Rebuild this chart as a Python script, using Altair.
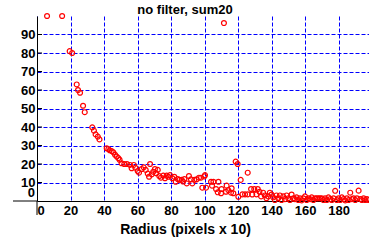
import altair as alt
import pandas as pd

# ---- data ----
radius = [6, 15, 19.5, 21, 23.7, 24.5, 25.7, 27.5, 28.5, 33, 34, 35, 36.3, 37.3,
          41.6, 42.6, 43.4, 44.6, 45.6, 46.6, 47.6, 48.6, 49.3, 50.5, 52.1, 53.7,
          55.5, 56.5, 57.8, 58.7, 60.1, 60.9, 62.5, 63.7, 64.9, 66.1, 66.9, 67.5,
          68.5, 69.4, 70.4, 71.2, 72.1, 73, 74, 75.4, 76.4, 77.4, 78.4, 79.4, 80.8,
          82, 82.8, 84, 85, 86.4, 87.2, 88, 89.4, 90.7, 91.9, 92.7, 93.9, 95.3,
          96.7, 97.9, 98.7, 99.9, 100.3, 100.9, 103.9, 104.5, 105.3, 106.9, 107.9,
          108.3, 109.9, 110.2, 111.6, 112.8, 113.2, 114.2, 115.8, 116.2, 117.2,
          118.6, 119.8, 120.2, 121.6, 122.6, 124.2, 125.8, 125.8, 127.8, 128.5,
          129.7, 131, 131.8, 132.8, 133.8, 135, 136, 137, 138, 139, 140, 141, 142,
          143, 144, 145, 146, 147, 148, 149, 150, 151, 152, 153, 154, 155, 156,
          157, 158, 159, 160, 161, 162, 163, 164, 165, 166, 167, 168, 169, 170,
          171, 172, 173, 174, 175, 176, 177, 178, 179, 180, 181, 182, 183, 184,
          185, 186, 187, 188, 189, 190, 191, 192, 193, 194, 195, 196, 197, 198]
value = [100, 100, 81, 80, 63, 60, 58.5, 51.5, 48, 39.8, 38, 36, 34.8, 33.3,
         28.5, 28, 27.4, 27, 26.3, 25, 24, 23.2, 22.3, 20.4, 20, 20,
         19.5, 17.7, 19.5, 18, 16.2, 15.3, 17.3, 18.2, 16.8, 14.8, 13.1, 20,
         14.4, 15.8, 17.3, 15, 16.8, 13.5, 12.6, 13.7, 12.3, 13.7, 13.1, 14, 12.3,
         13.1, 10.4, 11.9, 11.4, 11.4, 10.5, 11.9, 9.5, 13.5, 11.7, 9.5, 11.4, 11.7,
         12.6, 12.6, 7.2, 13.3, 14, 7.2, 10.4, 8.3, 10.4, 6.5, 4.7,
         10.4, 4.2, 6.5, 96.2, 5, 8.3, 5.9, 4.5, 6.9, 4.2,
         21.3, 20, 2.3, 11.4, 3.6, 3.6, 3.6, 15.3, 6.5, 3.5,
         6.5, 3.6, 6.5, 5, 2.5, 4.5, 3, 1.5, 2.5, 4.5, 3.5, 2, 0.5,
         3, 1.5, 3, 0.5, 2.5, 1, 3, 1.5, 0.5, 3.5, 1.5, 1, 2, 0.5,
         1.5, 0.3, 1.5, 2.5, 0.5, 1.5, 1, 2, 0.5, 1.5, 1.5, 1.5, 1.5, 1.5,
         0.5, 1.5, 0.5, 2, 1, 0.5, 1.5, 5.5, 0.5, 1.5, 0.5, 2, 1, 0.3,
         1.5, 0.5, 4.5, 1, 1.5, 0.5, 1.5, 5.6, 1, 0.5, 1.5, 0.5, 1, 0.5]
x_ticks = [0, 20, 40, 60, 80, 100, 120, 140, 160, 180]
y_ticks = [10, 20, 30, 40, 50, 60, 70, 80, 90]
zero_label = ["0"]

FONT = "Liberation Sans"

df = pd.DataFrame({"radius": radius, "value": value})
xscale = alt.Scale(domain=[0, 198.2], nice=False, zero=False)
yscale = alt.Scale(domain=[0, 100], nice=False)

xaxis = alt.Axis(values=x_ticks, title="Radius (pixels x 10)", ticks=False,
                 labelFlush=True, labelPadding=3, labelOverlap=False,
                 titleX=148, titleY=21, titleBaseline="top",
                 titleAnchor="start", titleAlign="center")
yaxis = alt.Axis(values=y_ticks, title=None, ticks=False, labelPadding=2,
                 labelOverlap=False)

points = alt.Chart(df).mark_point(
    shape="circle", filled=False, color="#ff0000", size=24, strokeWidth=1.2,
    opacity=1, clip=False
).encode(
    x=alt.X("radius:Q", scale=xscale, axis=xaxis),
    y=alt.Y("value:Q", scale=yscale, axis=yaxis),
)

ytick_df = pd.DataFrame({"value": y_ticks})
yticks = alt.Chart(ytick_df).mark_rule(color="black", strokeWidth=1).encode(
    y=alt.Y("value:Q", scale=yscale, axis=yaxis), x=alt.value(0), x2=alt.value(5)
)

zero_df = pd.DataFrame({"value": [0], "lab": zero_label})
zero_text = alt.Chart(zero_df).mark_text(
    align="right", baseline="middle", dx=-2, dy=-8, font=FONT, fontSize=13,
    fontWeight="bold", color="black"
).encode(y=alt.Y("value:Q", scale=yscale, axis=yaxis), x=alt.value(0), text="lab:N")

ext_df = pd.DataFrame({"a": [0]})
yext = alt.Chart(ext_df).mark_rule(color="black").encode(
    x=alt.value(0), y=alt.value(185), y2=alt.value(199)
)
xext = alt.Chart(ext_df).mark_rule(color="black").encode(
    x=alt.value(-24), x2=alt.value(0), y=alt.value(185)
)

chart = alt.layer(points, yticks, zero_text, yext, xext).properties(
    width=332, height=185,
    title=alt.TitleParams("no filter, sum20", font=FONT, fontSize=13, fontWeight="bold",
                          frame="group", anchor="middle", dx=-18, dy=9, offset=3,
                          color="black"),
    autosize=alt.AutoSizeParams(type="none"),
    padding={"left": 37, "top": 16, "right": 0, "bottom": 46},
    background="white",
).configure_view(stroke=None).configure_axis(
    domainColor="black", domainWidth=1, labelOverlap=False,
    labelFont=FONT, labelFontSize=13, labelFontWeight="bold", labelColor="black",
    titleFont=FONT, titleFontSize=14, titleFontWeight="bold", titleColor="black",
    gridColor="#0000ff", gridDash=[4, 2], gridWidth=1, gridOpacity=1,
)

chart.save("out.html", embed_options={"renderer": "svg", "actions": False})
